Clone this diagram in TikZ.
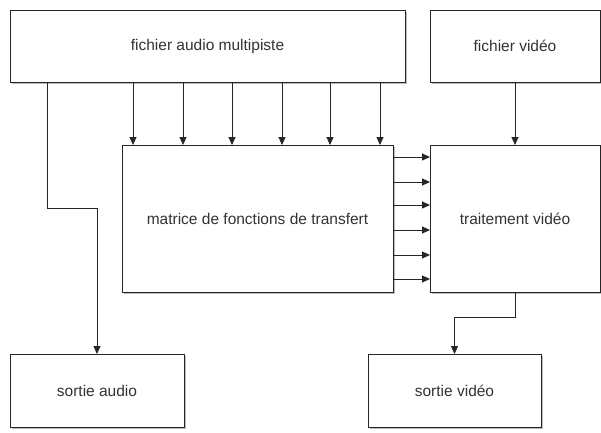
\documentclass[tikz,border=0pt]{standalone}
\usepackage{fontspec}
\setmainfont{Liberation Sans}
\usetikzlibrary{arrows.meta,shadows}
\begin{document}
\begin{tikzpicture}[x=1pt,y=-1pt,
  box/.style={draw=black!85, line width=1pt, fill=white, inner sep=0pt, outer sep=0pt,
    font=\fontsize{15.5}{18}\selectfont, text=black!80,
    drop shadow={shadow xshift=2pt, shadow yshift=-2pt, opacity=0.45, fill=black!60}},
  arr/.style={draw=black!85, line width=0.9pt, -{Triangle[length=8pt,width=7pt]}},
  ln/.style={draw=black!85, line width=0.9pt}]
\fill[white] (0,0) rectangle (601,432);
\useasboundingbox (0,0) rectangle (601,432);
\node[box, minimum width=395, minimum height=72] (audio) at (207.5,46) {fichier audio multipiste};
\node[box, minimum width=170, minimum height=72] (vfile) at (515,46) {fichier vidéo};
\node[box, minimum width=271, minimum height=147] (mat) at (257.5,218.5) {matrice de fonctions de transfert};
\node[box, minimum width=170, minimum height=147] (trait) at (515,218.5) {traitement vidéo};
\node[box, minimum width=174, minimum height=73] (saudio) at (97,390.5) {sortie audio};
\node[box, minimum width=173, minimum height=73] (svideo) at (454.5,390.5) {sortie vidéo};
% vertical inputs to the matrix
\foreach \x [count=\i] in {133,183,232,282,330,380} {
  \coordinate (c\i) at (\x,0);
  \draw[arr] (c\i |- audio.south) -- (c\i |- mat.north);
}
% horizontal outputs of the matrix
\foreach \y [count=\i] in {157,182,205,230,255,279} {
  \coordinate (r\i) at (0,\y);
  \draw[arr] (r\i -| mat.east) -- (r\i -| trait.west);
}
\draw[arr] (vfile.south) -- (trait.north);
\coordinate (m1) at (47,208);
\draw[arr] (m1 |- audio.south) -- (m1) -| (saudio.north);
\coordinate (m2) at (515,317);
\draw[arr] (trait.south) -- (m2) -| (svideo.north);
\end{tikzpicture}
\end{document}
